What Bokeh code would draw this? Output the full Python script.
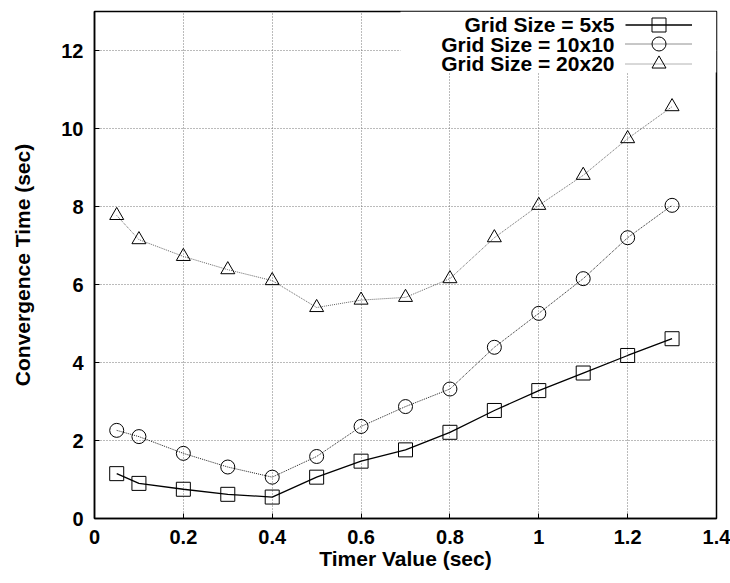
from bokeh.plotting import figure
from bokeh.models import (Range1d, FixedTicker, Legend, LegendItem,
                          Label, BoxAnnotation)
from bokeh.embed import file_html
from bokeh.resources import INLINE

# ---- data ----
timer = [0.05, 0.1, 0.2, 0.3, 0.4, 0.5, 0.6, 0.7, 0.8, 0.9, 1.0, 1.1, 1.2, 1.3]
grid5 = [1.15, 0.90, 0.75, 0.62, 0.55, 1.06, 1.47, 1.76, 2.21, 2.77, 3.28, 3.73, 4.18, 4.61]
grid10 = [2.26, 2.10, 1.67, 1.32, 1.06, 1.59, 2.36, 2.87, 3.32, 4.39, 5.26, 6.15, 7.20, 8.03]
grid20 = [7.77, 7.15, 6.72, 6.38, 6.10, 5.41, 5.60, 5.67, 6.15, 7.20, 8.03, 8.80, 9.74, 10.56]
series_names = ["Grid Size = 5x5", "Grid Size = 10x10", "Grid Size = 20x20"]
x_ticks = [0, 0.2, 0.4, 0.6, 0.8, 1, 1.2, 1.4]
x_tick_labels = ["0", "0.2", "0.4", "0.6", "0.8", "1", "1.2", "1.4"]
y_ticks = [0, 2, 4, 6, 8, 10, 12]
y_tick_labels = ["0", "2", "4", "6", "8", "10", "12"]

FONT = "Liberation Sans"

p = figure(width=730, height=583, output_backend="svg", toolbar_location=None,
           x_range=Range1d(0, 1.4), y_range=Range1d(0, 13),
           min_border_left=94, min_border_right=14, min_border_top=11,
           min_border_bottom=65)
p.background_fill_color = "white"
p.border_fill_color = "white"
p.outline_line_color = "black"
p.outline_line_width = 1.5

# axes
for ax in (p.xaxis[0], p.yaxis[0]):
    ax.major_tick_in = 5
    ax.major_tick_out = 0
    ax.minor_tick_line_color = None
    ax.axis_line_color = "black"
    ax.axis_line_width = 1.5
    ax.major_tick_line_color = "black"
    ax.major_label_text_font = FONT
    ax.major_label_text_font_style = "bold"
    ax.major_label_text_font_size = "20px"
    ax.major_label_text_color = "black"
    ax.axis_label_text_font = FONT
    ax.axis_label_text_font_style = "bold"
    ax.axis_label_text_font_size = "21px"
    ax.axis_label_text_color = "black"

p.xaxis[0].ticker = FixedTicker(ticks=x_ticks)
p.xaxis[0].major_label_overrides = dict(zip(x_ticks, x_tick_labels))
p.yaxis[0].ticker = FixedTicker(ticks=y_ticks)
p.yaxis[0].major_label_overrides = dict(zip(y_ticks, y_tick_labels))
p.xaxis[0].axis_label = "Timer Value (sec)"
p.yaxis[0].axis_label = "Convergence Time (sec)"
p.xaxis[0].major_label_standoff = 11
p.xaxis[0].axis_label_standoff = 0
p.yaxis[0].major_label_standoff = 11
p.yaxis[0].axis_label_standoff = 24

# grid
for g in (p.xgrid[0], p.ygrid[0]):
    g.grid_line_color = "#777777"
    g.grid_line_dash = "1 2"
    g.grid_line_width = 1
p.xgrid[0].ticker = FixedTicker(ticks=x_ticks)
p.ygrid[0].ticker = FixedTicker(ticks=y_ticks)

# white key box covering grid behind legend
key_box = BoxAnnotation(left=400, right=716, top=11, bottom=72,
                        left_units="canvas", right_units="canvas",
                        top_units="canvas", bottom_units="canvas",
                        fill_color="white", fill_alpha=1, line_color=None,
                        level="underlay")
p.add_layout(key_box)

# series
styles = [
    dict(color="black", width=1.3, dash="solid", marker="square"),
    dict(color="#222222", width=1.0, dash="1 1", marker="circle"),
    dict(color="#555555", width=0.9, dash="1 1", marker="triangle"),
]
row_centers = [494, 474.5, 455]   # key rows, px above the frame bottom
for i, (name, ys, st) in enumerate(zip(series_names, [grid5, grid10, grid20], styles)):
    lr = p.line(timer, ys, line_color=st["color"], line_width=st["width"],
                line_dash=st["dash"])
    sr = p.scatter(timer, ys, marker=st["marker"], size=14, fill_color=None,
                   line_color="black", line_width=1)
    # key sample (line + marker) to the right of the text, gnuplot style
    leg = Legend(items=[LegendItem(label=" ", renderers=[lr, sr])],
                 location=(531, row_centers[i] - 17.5), glyph_width=67,
                 glyph_height=35, label_height=10, label_width=0,
                 label_standoff=0, spacing=0, padding=0, margin=0,
                 border_line_color=None, background_fill_alpha=0,
                 label_text_font_size="20px")
    p.add_layout(leg, "center")
    p.add_layout(Label(x=520, y=row_centers[i], x_units="screen", y_units="screen",
                       text=name, text_align="right", text_baseline="middle",
                       text_font=FONT, text_font_style="bold",
                       text_font_size="21px", text_color="black"))

open("out.html", "w").write(file_html(p, INLINE))
